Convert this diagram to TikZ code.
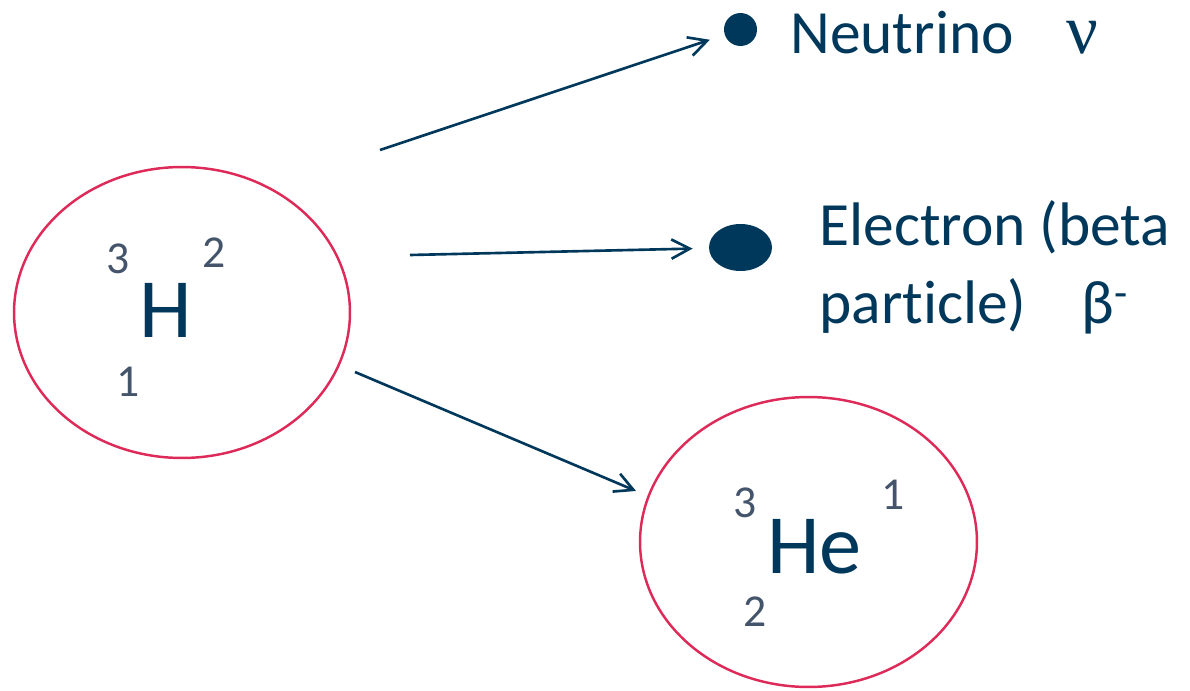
\documentclass[tikz,border=0pt]{standalone}
\usepackage{fontspec}
\setmainfont{Carlito}[Ligatures=NoCommon]
\newfontfamily\greekserif{Liberation Serif}
\usepackage{tikz}
\usetikzlibrary{positioning, arrows.meta, shapes.geometric}
\definecolor{navy}{RGB}{0,56,92}
\definecolor{rim}{RGB}{222,42,88}
\definecolor{nucl}{RGB}{68,84,106}

\begin{document}
\begin{tikzpicture}[x=0.02cm, y=-0.02cm,
  atom/.style={draw=rim, line width=1.4pt, ellipse, inner sep=0pt},
  part/.style={fill=navy, ellipse, inner sep=0pt},
  sym/.style={text=navy, font=\fontsize{48}{56}\selectfont, inner sep=0pt},
  num/.style={text=nucl, font=\fontsize{26}{30}\selectfont, inner sep=0pt, anchor=base},
  lab/.style={text=navy, font=\fontsize{35}{44}\selectfont, inner sep=0pt, anchor=base west, align=left},
  arr/.style={navy, line width=1.5pt, -{Straight Barb[length=10.5pt, width=11pt]}}]
\useasboundingbox (0,0) rectangle (1190,690);
% nuclei
\node[atom, minimum width=6.72cm, minimum height=5.82cm] (H) at (182,312.5) {};
\node[atom, minimum width=6.74cm, minimum height=5.80cm] (He) at (808.5,542) {};
\node[sym, anchor=base] (Hsym) at (166,337) {H};
\node[num] (Ha) at (118,273) {3};
\node[num] (Hb) at (214,267) {2};
\node[num] (Hz) at (128,396) {1};
\node[sym, anchor=base west] (Hesym) at (767,573) {He};
\node[num] (Hea) at (745.5,517) {3};
\node[num] (Heb) at (893.5,509) {1};
\node[num] (Hez) at (755,626) {2};
% emitted particles
\node[part, minimum size=0.66cm] (nu) at (740.5,29.5) {};
\node[part, minimum width=1.26cm, minimum height=0.94cm] (el) at (740.5,247.5) {};
\node[lab] (nulab) at (790,53) {Neutrino\hspace{0.85em}{\greekserif\fontsize{40}{44}\selectfont ν}};
\node[lab] (ellab) at (819,323) {Electron (beta\\particle)\hspace{0.9em}β\textsuperscript{-}};
% decay arrows
\coordinate (tnu) at (380,150);
\coordinate (tel) at (410,255);
\coordinate (tHe) at (355,372);
\draw[arr, shorten >=0.31cm] (tnu) -- (nu);
\draw[arr, shorten >=0.32cm] (tel) -- (el);
\draw[arr, shorten >=0.25cm] (tHe) -- (He.164.5);
\end{tikzpicture}
\end{document}
